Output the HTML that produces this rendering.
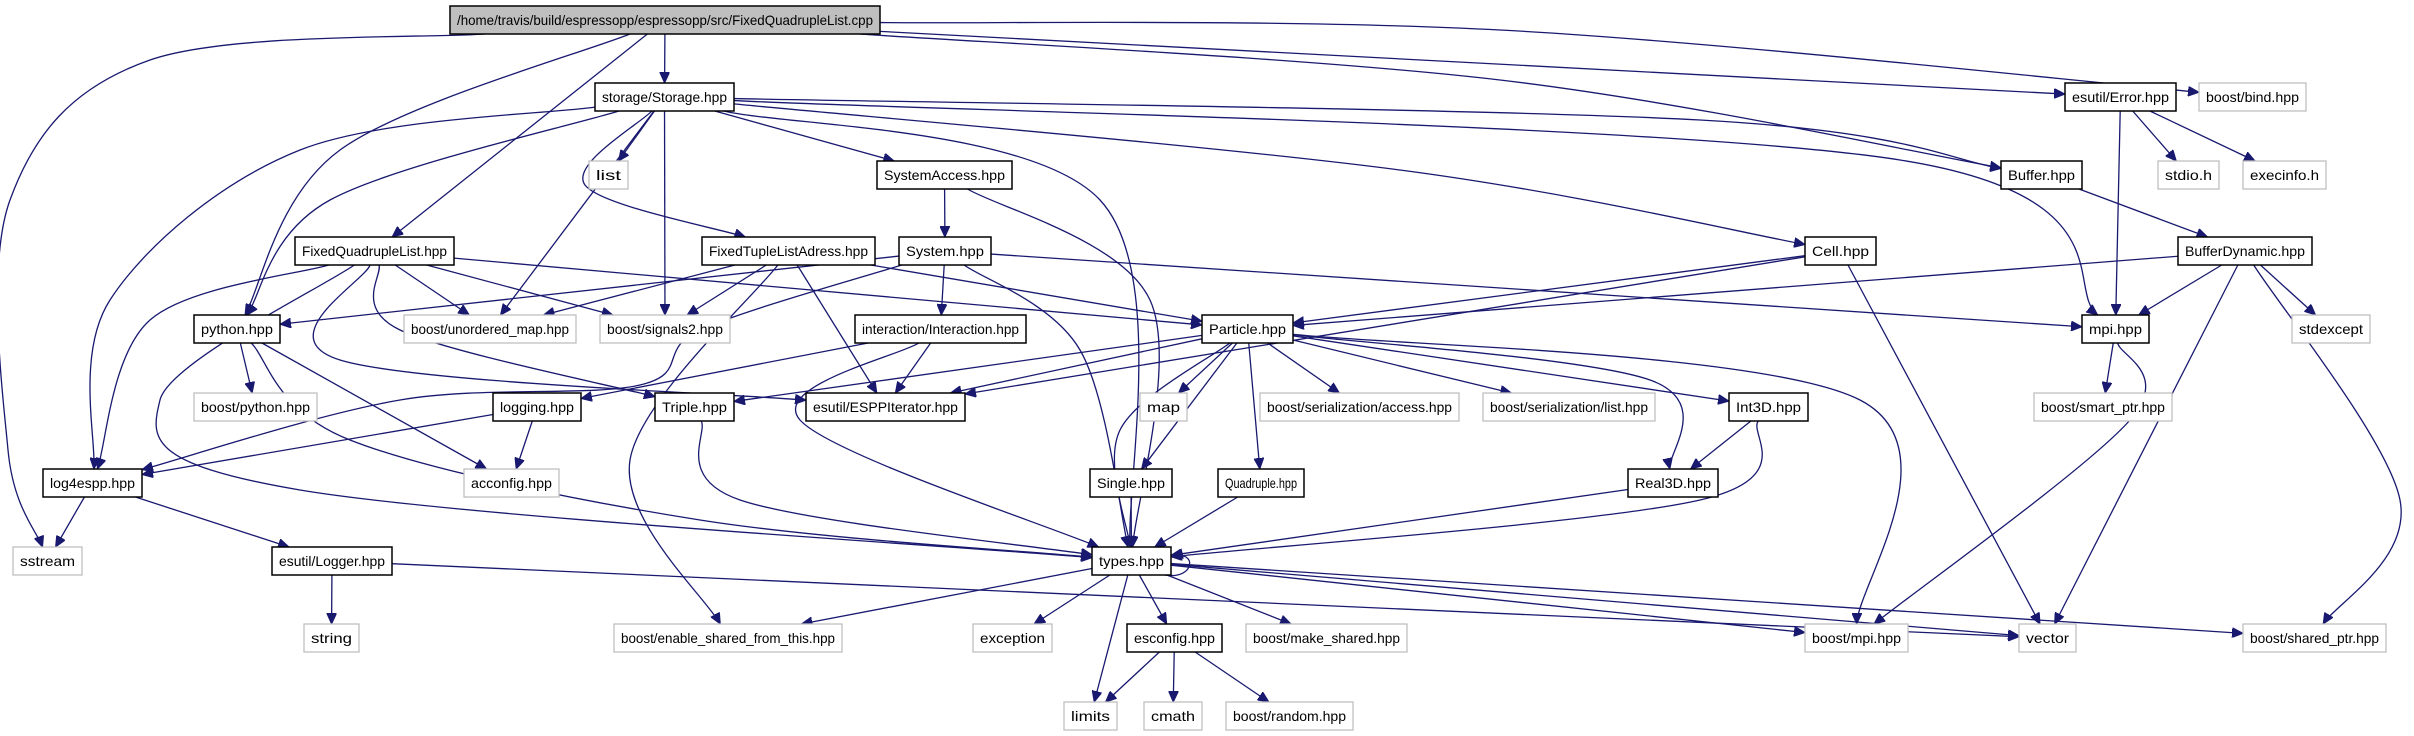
<!DOCTYPE html>
<html><head><meta charset="utf-8">
<style>
html,body{margin:0;padding:0;background:#fff;}
svg{display:block;}
text{font-family:"Liberation Sans",sans-serif;font-size:14px;}
</style></head>
<body>
<svg id="g" xmlns="http://www.w3.org/2000/svg" width="2414" height="736" viewBox="0 0 2414 736">
<defs>
<marker id="ar" markerUnits="userSpaceOnUse" markerWidth="12" markerHeight="10" refX="11" refY="5" orient="auto">
<path d="M0,0 L11,5 L0,10 z" fill="#191970" stroke="#191970"/>
</marker>
</defs>
<g id="edges" fill="none" stroke="#191970" stroke-width="1.3"></g>
<g id="nodes"></g>
</svg>
<script>
var R=[6,83,161,237,315,393,469,547,624,702];
var N={
root:["/home/travis/build/espressopp/espressopp/src/FixedQuadrupleList.cpp",450,880,0,2],
storage:["storage/Storage.hpp",595,734,1,0],
bind:["boost/bind.hpp",2199,2306,1,1],
error:["esutil/Error.hpp",2065,2176,1,0],
list:["list",589,628,2,1],
sysacc:["SystemAccess.hpp",877,1012,2,0],
buffer:["Buffer.hpp",2001,2082,2,0],
stdio:["stdio.h",2158,2219,2,1],
execinfo:["execinfo.h",2243,2326,2,1],
fql:["FixedQuadrupleList.hpp",295,454,3,0],
ftla:["FixedTupleListAdress.hpp",702,875,3,0],
system:["System.hpp",899,991,3,0],
cell:["Cell.hpp",1805,1876,3,0],
bufdyn:["BufferDynamic.hpp",2178,2312,3,0],
python:["python.hpp",194,280,4,0],
umap:["boost/unordered_map.hpp",404,576,4,1],
signals:["boost/signals2.hpp",600,730,4,1],
inter:["interaction/Interaction.hpp",855,1026,4,0],
particle:["Particle.hpp",1202,1293,4,0],
mpi:["mpi.hpp",2082,2149,4,0],
stdexcept:["stdexcept",2292,2370,4,1],
bpython:["boost/python.hpp",194,317,5,1],
logging:["logging.hpp",493,581,5,0],
triple:["Triple.hpp",655,734,5,0],
esppit:["esutil/ESPPIterator.hpp",806,965,5,0],
map:["map",1140,1187,5,1],
access:["boost/serialization/access.hpp",1260,1459,5,1],
slist:["boost/serialization/list.hpp",1483,1655,5,1],
int3d:["Int3D.hpp",1729,1808,5,0],
smartptr:["boost/smart_ptr.hpp",2034,2172,5,1],
log4:["log4espp.hpp",43,142,6,0],
acconfig:["acconfig.hpp",464,559,6,1],
single:["Single.hpp",1090,1172,6,0],
quad:["Quadruple.hpp",1218,1304,6,0],
real3d:["Real3D.hpp",1628,1718,6,0],
sstream:["sstream",13,82,7,1],
logger:["esutil/Logger.hpp",272,392,7,0],
types:["types.hpp",1092,1171,7,0],
string:["string",304,359,8,1],
enable:["boost/enable_shared_from_this.hpp",614,842,8,1],
exception:["exception",973,1052,8,1],
esconfig:["esconfig.hpp",1127,1222,8,0],
make:["boost/make_shared.hpp",1246,1407,8,1],
bmpi:["boost/mpi.hpp",1805,1908,8,1],
vector:["vector",2019,2076,8,1],
shared:["boost/shared_ptr.hpp",2243,2386,8,1],
limits:["limits",1064,1117,9,1],
cmath:["cmath",1144,1202,9,1],
random:["boost/random.hpp",1226,1353,9,1]
};
var E=[
["root","sstream",[[150,60],[10,200],[8,450]]],
["root","python",[[340,150]]],["root","fql"],["root","storage"],["root","error"],["root","buffer",[[1500,80]]],["root","bind",[[1500,30]]],
["storage","log4",[[300,150],[110,300]]],["storage","python",[[330,200]]],["storage","umap"],["storage","list"],["storage","signals"],
["storage","ftla",[[585,185]]],["storage","sysacc"],["storage","types",[[1100,200]]],["storage","mpi",[[1900,160]]],["storage","buffer",[[1700,120]]],["storage","cell",[[1400,170]]],
["sysacc","system"],["sysacc","types",[[1150,300]]],
["fql","log4",[[150,320]]],["fql","types",[[160,400],[300,490]]],["fql","triple",[[400,330]]],["fql","umap"],["fql","signals"],["fql","particle"],["fql","esppit",[[340,360]]],
["ftla","umap"],["ftla","signals"],["ftla","particle"],["ftla","esppit"],["ftla","enable",[[630,460]]],
["system","python"],["system","inter"],["system","types",[[1080,350]]],["system","mpi"],["system","log4",[[700,330],[640,385],[400,400]]],
["inter","logging"],["inter","esppit"],["inter","types",[[800,420]]],
["cell","particle"],["cell","esppit"],["cell","vector"],
["error","mpi"],["error","stdio"],["error","execinfo"],
["buffer","bufdyn"],
["bufdyn","particle"],["bufdyn","mpi"],["bufdyn","stdexcept"],["bufdyn","vector"],["bufdyn","shared",[[2400,500]]],
["particle","triple"],["particle","esppit"],["particle","map"],["particle","types",[[1120,430]]],["particle","single"],["particle","quad"],["particle","access"],["particle","slist"],["particle","int3d"],["particle","real3d",[[1650,380]]],["particle","bmpi",[[1860,400]]],
["mpi","smartptr"],["mpi","bmpi",[[2130,420]]],
["python","bpython"],["python","types",[[350,440],[700,520]]],["python","acconfig"],
["logging","log4"],["logging","acconfig"],
["triple","types",[[740,500]]],
["log4","sstream"],["log4","logger"],
["logger","string"],["logger","vector"],
["single","types"],["quad","types"],["int3d","real3d"],["int3d","types",[[1700,500]]],["real3d","types"],
["types","enable"],["types","exception"],["types","limits"],["types","esconfig"],["types","make"],["types","bmpi"],["types","vector"],["types","shared"],
["esconfig","limits"],["esconfig","cmath"],["esconfig","random"]
];
var NS="http://www.w3.org/2000/svg";
function box(id){var n=N[id];return {x1:n[1],x2:n[2],y1:R[n[3]],y2:R[n[3]]+28,cx:(n[1]+n[2])/2,cy:R[n[3]]+14};}
function clip(b,px,py){var dx=px-b.cx,dy=py-b.cy;if(dx==0&&dy==0)return [b.cx,b.cy];
var hw=(b.x2-b.x1)/2,hh=14;var t=Math.min(dx!=0?hw/Math.abs(dx):1e9,dy!=0?hh/Math.abs(dy):1e9);return [b.cx+dx*t,b.cy+dy*t];}
var eg=document.getElementById("edges");
E.forEach(function(e){var s=box(e[0]),t=box(e[1]),w=e[2]||[];
var first=w.length?w[0]:[t.cx,t.cy],last=w.length?w[w.length-1]:[s.cx,s.cy];
var p0=clip(s,first[0],first[1]),p1=clip(t,last[0],last[1]);
var pts=[p0].concat(w).concat([p1]);var d="M"+pts[0][0]+","+pts[0][1];
if(pts.length==2){d+=" L"+pts[1][0]+","+pts[1][1];}else{
for(var i=0;i<pts.length-1;i++){var a=pts[i>0?i-1:0],b=pts[i],c=pts[i+1],f=pts[i+2<pts.length?i+2:i+1];
var c1=[b[0]+(c[0]-a[0])/6,b[1]+(c[1]-a[1])/6],c2=[c[0]-(f[0]-b[0])/6,c[1]-(f[1]-b[1])/6];
d+=" C"+c1[0]+","+c1[1]+" "+c2[0]+","+c2[1]+" "+c[0]+","+c[1];}}
var p=document.createElementNS(NS,"path");p.setAttribute("d",d);p.setAttribute("marker-end","url(#ar)");eg.appendChild(p);});
var sl2=document.createElementNS(NS,"path");sl2.setAttribute("d","M1165,575 C1195,580 1198,550 1172,556");sl2.setAttribute("marker-end","url(#ar)");
eg.appendChild(sl2);
var ng=document.getElementById("nodes");
for(var k in N){var n=N[k],b=box(k);
var r=document.createElementNS(NS,"rect");r.setAttribute("x",b.x1);r.setAttribute("y",b.y1);r.setAttribute("width",b.x2-b.x1);r.setAttribute("height",28);
r.setAttribute("fill",n[4]==2?"#bfbfbf":"#fff");r.setAttribute("stroke",n[4]==1?"#bfbfbf":"#000");r.setAttribute("stroke-width",n[4]==1?"1.3":"1.5");ng.appendChild(r);
var tx=document.createElementNS(NS,"text");tx.setAttribute("x",b.cx);tx.setAttribute("y",b.y1+19);tx.setAttribute("text-anchor","middle");
tx.setAttribute("textLength",b.x2-b.x1-14);tx.setAttribute("lengthAdjust","spacingAndGlyphs");tx.textContent=n[0];ng.appendChild(tx);}
</script>
</body></html>
